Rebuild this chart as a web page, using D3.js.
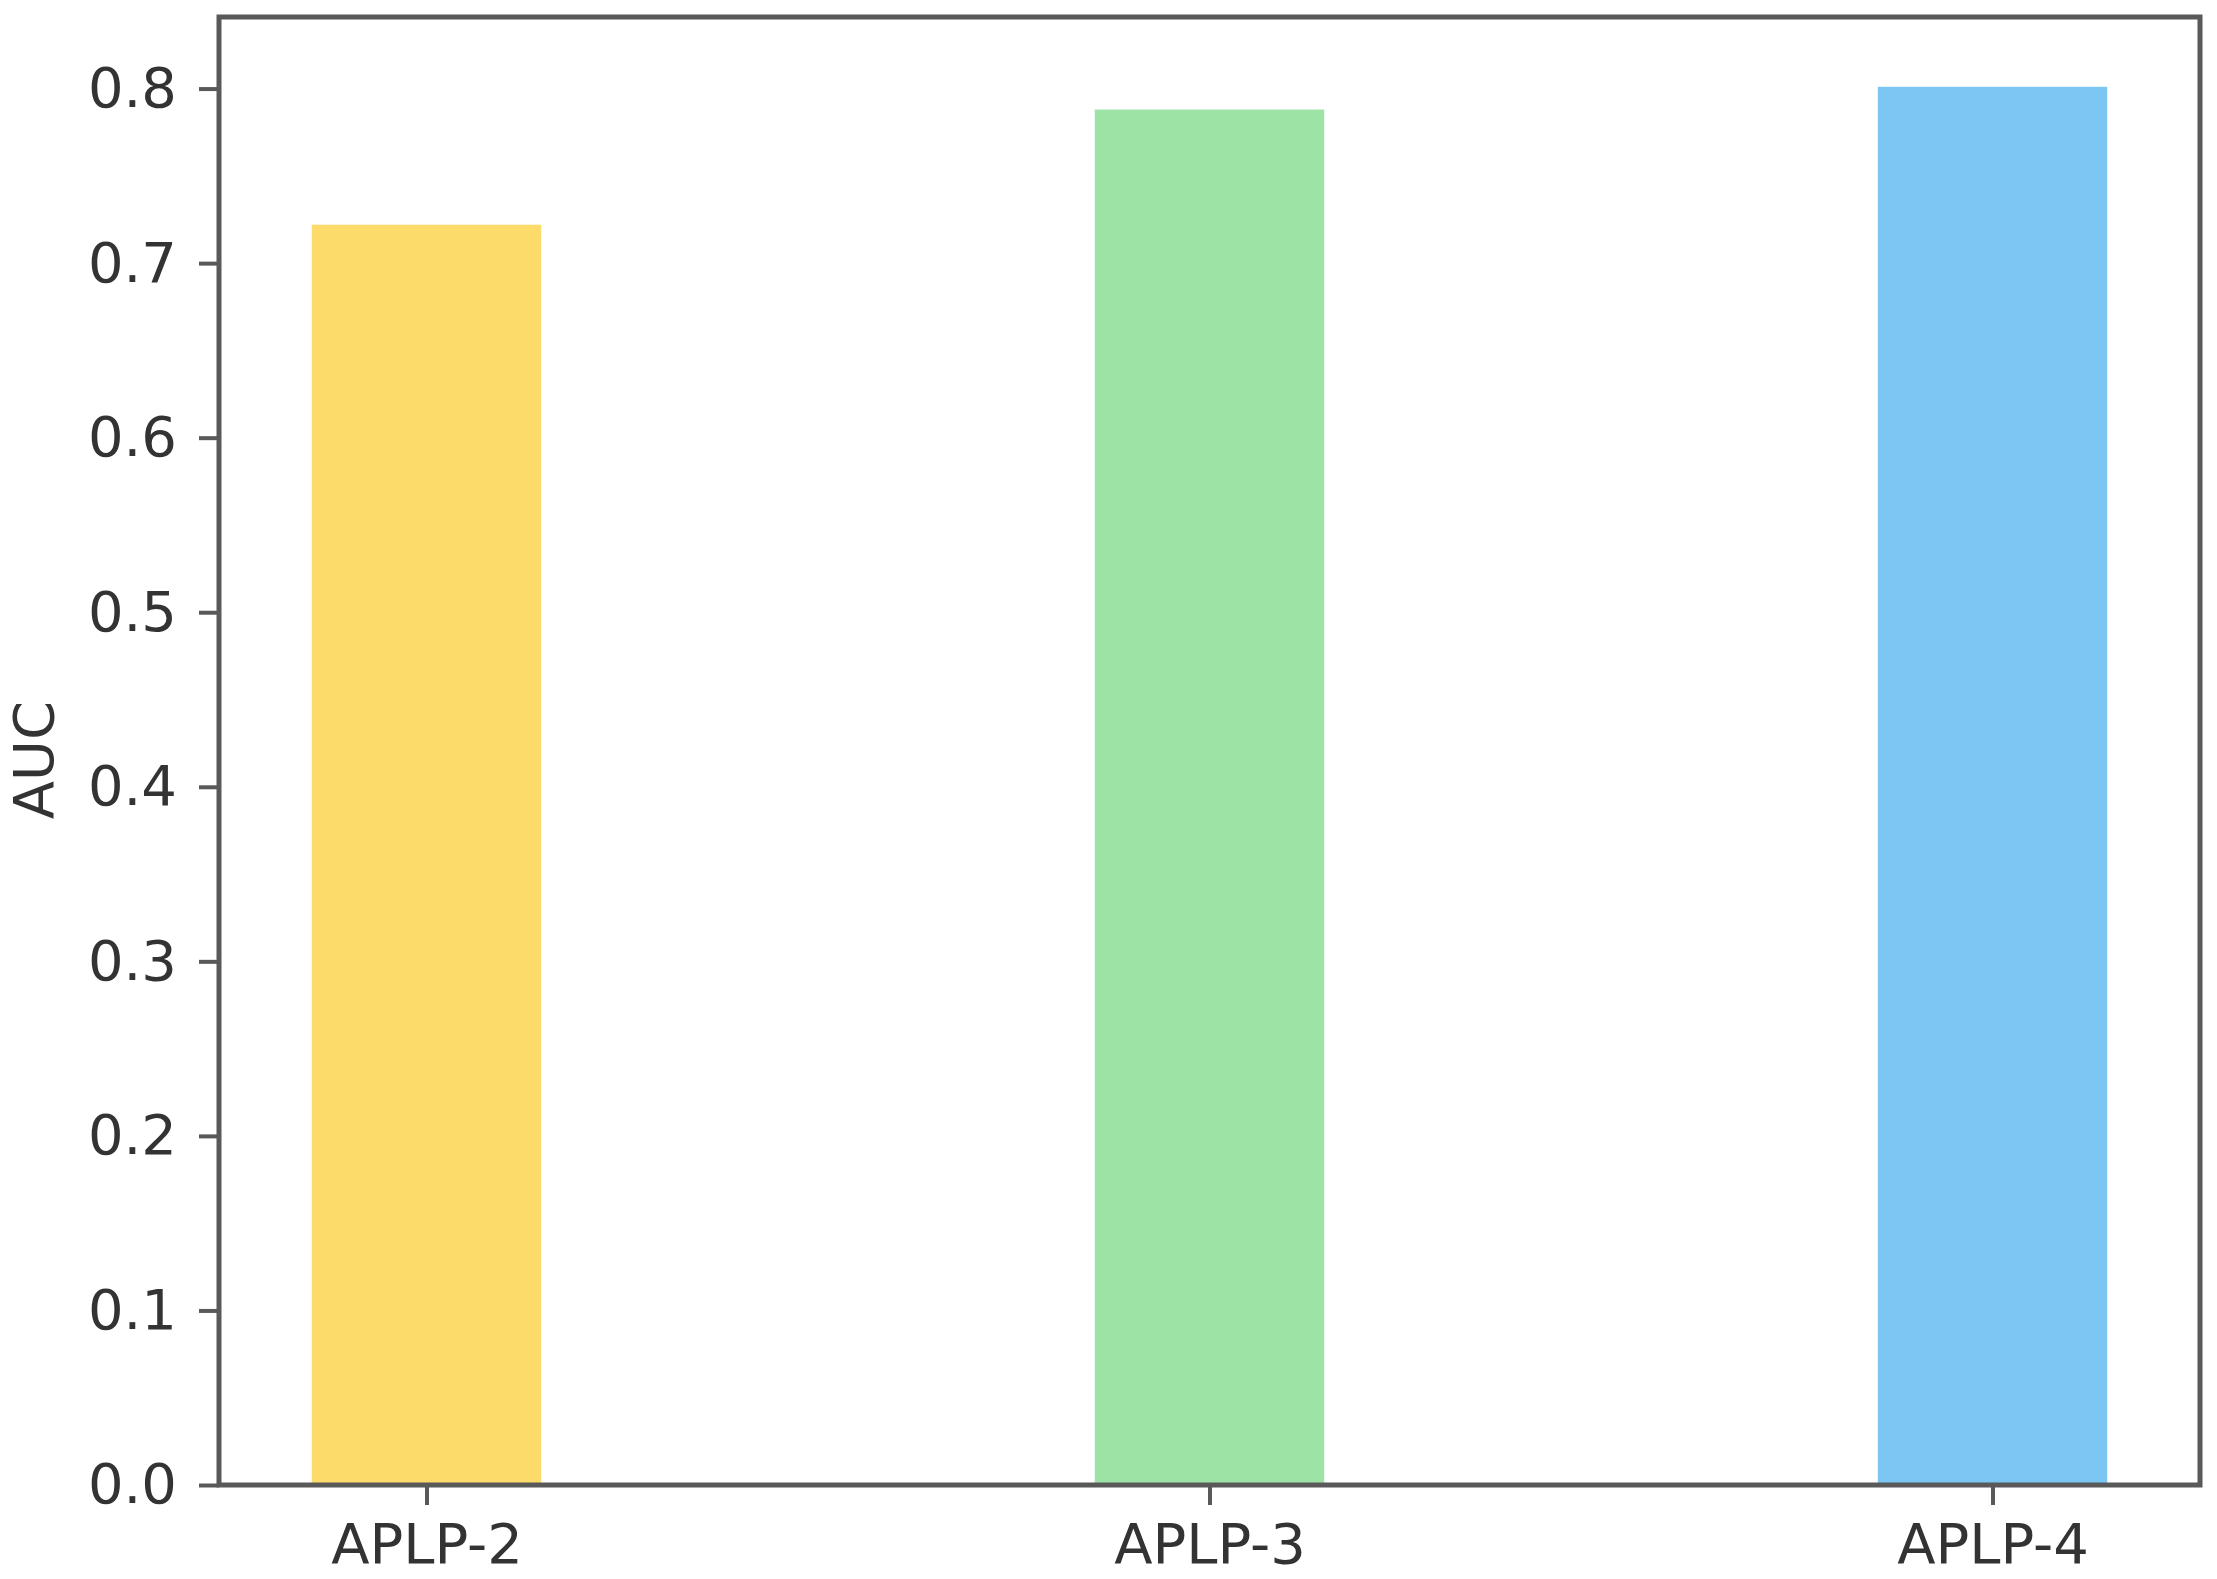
<!DOCTYPE html>
<html>
<head>
<meta charset="utf-8">
<script src="https://cdn.jsdelivr.net/npm/d3@7"></script>
<style>
  body { margin: 0; background: #fff; }
  text { font-family: "DejaVu Sans", sans-serif; }
</style>
</head>
<body>
<div id="chart"></div>
<script>
// data
var categories = ["APLP-2", "APLP-3", "APLP-4"];
var aucValues = [0.722, 0.788, 0.801];
var barColors = ["#fcdb6b", "#9de3a6", "#7bc6f2"];
var yTicks = [0.0, 0.1, 0.2, 0.3, 0.4, 0.5, 0.6, 0.7, 0.8];

// set the dimensions and margins of the graph
var margin = {top: 17, right: 17, bottom: 94, left: 219},
    width = 2217 - margin.left - margin.right,
    height = 1579 - margin.top - margin.bottom;

var svg = d3.select("#chart")
    .append("svg")
    .attr("width", 2217)
    .attr("height", 1579)
    .append("g")
    .attr("transform", "translate(" + margin.left + "," + margin.top + ")");

// x: bars at 0,1,2 plus matplotlib style margins
var barW = 0.293;
var x = d3.scaleLinear()
    .domain([-0.265, 2.265])
    .range([0, width]);

var y = d3.scaleLinear()
    .domain([0, 0.841])
    .range([height, 0]);

// bars
svg.selectAll("rect.bar")
    .data(aucValues)
    .enter()
    .append("rect")
    .attr("class", "bar")
    .attr("x", function (d, i) { return x(i - barW / 2); })
    .attr("width", function (d, i) { return x(i + barW / 2) - x(i - barW / 2); })
    .attr("y", function (d) { return y(d); })
    .attr("height", function (d) { return y(0) - y(d); })
    .style("fill", function (d, i) { return barColors[i]; });

var axisColor = "#595959";

// Y axis
var yAxis = svg.append("g")
    .call(d3.axisLeft(y).tickValues(yTicks).tickFormat(d3.format(".1f"))
        .tickSize(20).tickPadding(22));
yAxis.select(".domain").remove();
yAxis.selectAll("line").attr("stroke", axisColor).attr("stroke-width", 4);
yAxis.selectAll("text").attr("fill", "#333").style("font-size", "56px");

// X axis
var xAxis = svg.append("g")
    .attr("transform", "translate(0," + height + ")")
    .call(d3.axisBottom(x).tickValues([0, 1, 2])
        .tickFormat(function (d) { return categories[d]; })
        .tickSize(20).tickPadding(18));
xAxis.select(".domain").remove();
xAxis.selectAll("line").attr("stroke", axisColor).attr("stroke-width", 4);
xAxis.selectAll("text").attr("fill", "#333").style("font-size", "56px");

// frame
svg.append("rect")
    .attr("x", 0)
    .attr("y", 0)
    .attr("width", width)
    .attr("height", height)
    .attr("fill", "none")
    .attr("stroke", axisColor)
    .attr("stroke-width", 5);

// y label
svg.append("text")
    .attr("transform", "translate(" + (33 - margin.left) + "," + (760 - margin.top) + ") rotate(-90)")
    .attr("text-anchor", "middle")
    .attr("dominant-baseline", "central")
    .attr("fill", "#333")
    .style("font-size", "56px")
    .text("AUC");
</script>
</body>
</html>
